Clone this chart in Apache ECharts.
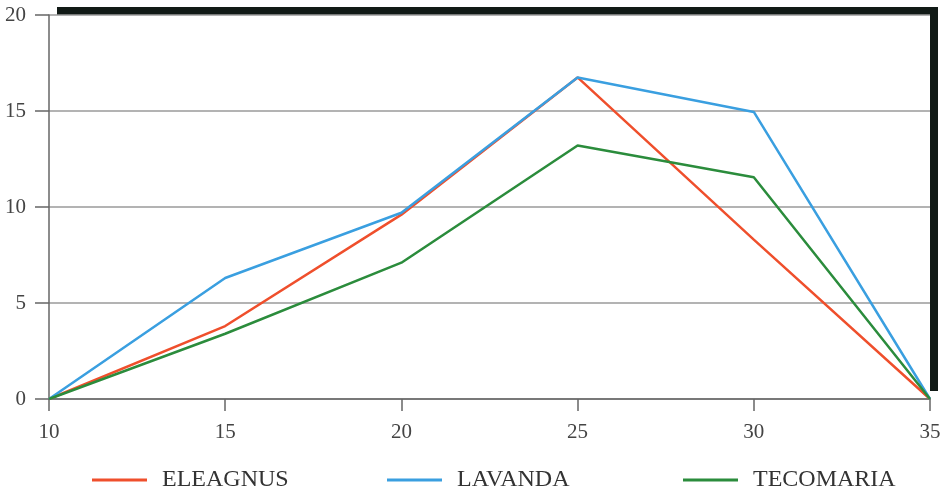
<!DOCTYPE html>
<html><head><meta charset="utf-8">
<script src="https://cdn.jsdelivr.net/npm/echarts@6/dist/echarts.min.js"></script>
<style>html,body{margin:0;padding:0;background:#fff}#c{width:946px;height:494px}</style>
</head><body><div id="c"></div>
<script>
const xValues = [10, 15, 20, 25, 30, 35];
const eleagnus = [0, 3.8, 9.6, 16.75, 8.3, 0];
const lavanda = [0, 6.3, 9.7, 16.75, 14.95, 0];
const tecomaria = [0, 3.4, 7.1, 13.2, 11.55, 0];
const seriesNames = ['ELEAGNUS', 'LAVANDA', 'TECOMARIA'];
const seriesColors = ['#ef4f2c', '#3a9fe0', '#2b8c3c'];
const seriesData = [eleagnus, lavanda, tecomaria];

const font = '"Liberation Serif", "DejaVu Serif", serif';
const chart = echarts.init(document.getElementById('c'));
const legendLeft = [92, 387, 683];
chart.setOption({
  animation: false,
  grid: {left: 49, right: 16, top: 15, bottom: 95, show: true, backgroundColor: '#fff', borderWidth: 0,
    shadowColor: '#111a16', shadowBlur: 0, shadowOffsetX: 8, shadowOffsetY: -8},
  legend: seriesNames.map((n, i) => ({
    data: [n], left: legendLeft[i], top: 468, itemWidth: 55, itemHeight: 26, padding: 0,
    icon: 'path://M0,0 L56,0 L56,3 L0,3 Z',
    textStyle: {fontFamily: font, fontSize: 24, color: '#333', padding: [0, 0, 0, 10]},
    itemStyle: {color: seriesColors[i]}
  })),
  xAxis: {type: 'value', min: 10, max: 35, interval: 5,
    axisLine: {show: true, onZero: false, lineStyle: {color: '#666', width: 1.5}},
    axisTick: {show: true, length: 12, lineStyle: {color: '#666', width: 1.5}},
    axisLabel: {fontFamily: font, fontSize: 21, color: '#444', margin: 23},
    splitLine: {show: false}},
  yAxis: {type: 'value', min: 0, max: 20, interval: 5,
    axisLine: {show: true, lineStyle: {color: '#666', width: 1.5}},
    axisTick: {show: true, length: 14, lineStyle: {color: '#666', width: 1.5}},
    axisLabel: {fontFamily: font, fontSize: 21, color: '#444', margin: 23},
    splitLine: {show: true, lineStyle: {color: '#9a9a9a', width: 1.5}}},
  series: seriesNames.map((n, i) => ({
    name: n, type: 'line', symbol: 'none',
    data: xValues.map((x, j) => [x, seriesData[i][j]]),
    lineStyle: {color: seriesColors[i], width: 2.5},
    itemStyle: {color: seriesColors[i]}
  }))
});
</script></body></html>
